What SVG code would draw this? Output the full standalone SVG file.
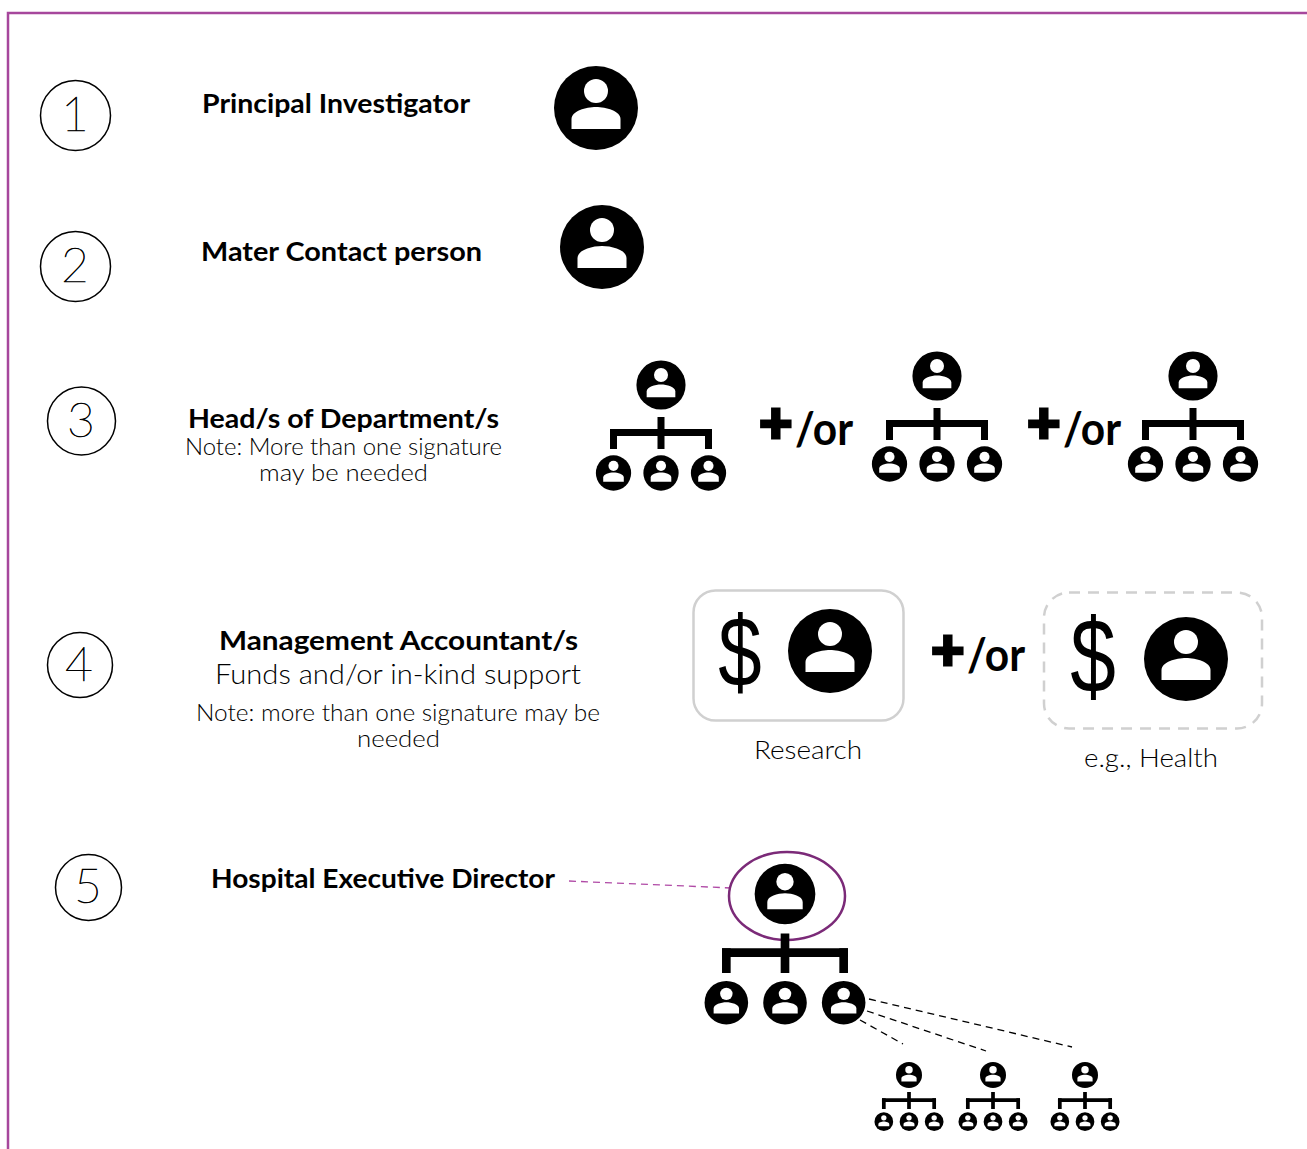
<svg xmlns="http://www.w3.org/2000/svg" xmlns:xlink="http://www.w3.org/1999/xlink" width="1307" height="1149" viewBox="0 0 1307 1149">
<style>
text{font-family:"Lato","Liberation Sans",sans-serif;fill:#000}
.h{font-size:27px;font-weight:700;text-anchor:start}
.n{font-size:23px;font-weight:300;fill:#000}
.num{font-size:48px;font-weight:100;text-anchor:middle;stroke:#000;stroke-width:.7}
.ring{fill:#fff;stroke:#000;stroke-width:1.5}
.or{font-size:46px;font-weight:700}
.plus{font-size:58px;font-weight:900;stroke:#000;stroke-width:3}
.dollar{font-family:"Liberation Sans",sans-serif;font-size:100px;font-weight:400;text-anchor:middle}
.box{fill:#fff;stroke:#d0d0d0;stroke-width:2.5}
.dash{stroke-dasharray:11 8}
.conn{fill:none;stroke:#000;stroke-width:1.3;stroke-dasharray:7 5}
</style>
<defs>
<g id="p"><circle r="42"/><circle cy="-17" r="12" fill="#fff"/><path d="M-24.5 21V11C-24.5 3-10-1 0-1S24.5 3 24.5 11V21Z" fill="#fff"/></g>
<g id="org">
<use href="#p" transform="scale(.585)"/>
<path d="M-3.5 32h7v32h-7zM-51 44h102v7h-102z"/>
<path d="M-51 44h7v20h-7zM44 44h7v20h-7z"/>
<use href="#p" transform="translate(-47.5 88) scale(.42)"/>
<use href="#p" transform="translate(0 88) scale(.42)"/>
<use href="#p" transform="translate(47.5 88) scale(.42)"/>
</g>
</defs>
<path id="frame" d="M8 1149V13H1307" fill="none" stroke="#a6479c" stroke-width="2.5"/>
<g id="connectors">
<path d="M569 881L731 888" fill="none" stroke="#b04aa6" stroke-width="1.3" stroke-dasharray="7 5"/>
<path class="conn" d="M869 999L1072 1047M867 1011L986 1051M860 1020L903 1044"/>
</g>
<g id="step1">
<circle class="ring" cx="75.5" cy="115.5" r="35"/><text class="num" x="75" y="131">1</text>
<text class="h" x="202" y="113" textLength="268" lengthAdjust="spacingAndGlyphs">Principal Investigator</text>
<use href="#p" transform="translate(596 108)"/>
</g>
<g id="step2">
<circle class="ring" cx="75.5" cy="266.5" r="35"/><text class="num" x="75" y="282">2</text>
<text class="h" x="201" y="261" textLength="281" lengthAdjust="spacingAndGlyphs">Mater Contact person</text>
<use href="#p" transform="translate(602 247)"/>
</g>
<g id="step3">
<circle class="ring" cx="81.5" cy="421" r="34"/><text class="num" x="81" y="437">3</text>
<text class="h" x="188" y="428" textLength="311" lengthAdjust="spacingAndGlyphs">Head/s of Department/s</text>
<text class="n" x="185" y="455" textLength="317" lengthAdjust="spacingAndGlyphs">Note: More than one signature</text>
<text class="n" x="259" y="481" textLength="169" lengthAdjust="spacingAndGlyphs">may be needed</text>
<use href="#org" x="661" y="385"/>
<text class="plus" x="759" y="443">+</text><text class="or" x="795" y="445" textLength="58" lengthAdjust="spacingAndGlyphs">/or</text>
<use href="#org" x="937" y="376"/>
<text class="plus" x="1027" y="443">+</text><text class="or" x="1063" y="445" textLength="58" lengthAdjust="spacingAndGlyphs">/or</text>
<use href="#org" x="1193" y="376"/>
</g>
<g id="step4">
<circle class="ring" cx="80" cy="665" r="32.5"/><text class="num" x="79" y="681">4</text>
<text class="h" x="219" y="650" textLength="359" lengthAdjust="spacingAndGlyphs">Management Accountant/s</text>
<text class="n" style="font-size:27px" x="215" y="684" textLength="366" lengthAdjust="spacingAndGlyphs">Funds and/or in-kind support</text>
<text class="n" x="196" y="721" textLength="404" lengthAdjust="spacingAndGlyphs">Note: more than one signature may be</text>
<text class="n" x="357" y="747" textLength="83" lengthAdjust="spacingAndGlyphs">needed</text>
<rect class="box" x="693.5" y="590.5" width="210" height="130" rx="22"/>
<text class="dollar" transform="translate(740 686) scale(.78 1)">$</text>
<use href="#p" transform="translate(830 651)"/>
<text class="plus" x="931" y="670">+</text><text class="or" x="967" y="671" textLength="58" lengthAdjust="spacingAndGlyphs">/or</text>
<rect class="box dash" x="1044" y="592.5" width="218" height="136" rx="25"/>
<text class="dollar" style="font-size:105px" transform="translate(1093 693) scale(.78 1)">$</text>
<use href="#p" transform="translate(1186 659)"/>
<text class="n" style="font-size:25px" x="754" y="759" textLength="108" lengthAdjust="spacingAndGlyphs">Research</text>
<text class="n" style="font-size:25px" x="1084" y="767" textLength="134" lengthAdjust="spacingAndGlyphs">e.g., Health</text>
</g>
<g id="step5">
<circle class="ring" cx="88.5" cy="887.5" r="33"/><text class="num" x="88" y="903">5</text>
<text class="h" x="211" y="888" textLength="344" lengthAdjust="spacingAndGlyphs">Hospital Executive Director</text>
<ellipse cx="787" cy="896" rx="58" ry="44" fill="none" stroke="#7b2a78" stroke-width="2.5"/>
<use href="#org" transform="translate(785 894) scale(1.235)"/>
<use href="#org" transform="translate(909 1075) scale(.53)"/>
<use href="#org" transform="translate(993 1075) scale(.53)"/>
<use href="#org" transform="translate(1085 1075) scale(.53)"/>
</g>
</svg>
